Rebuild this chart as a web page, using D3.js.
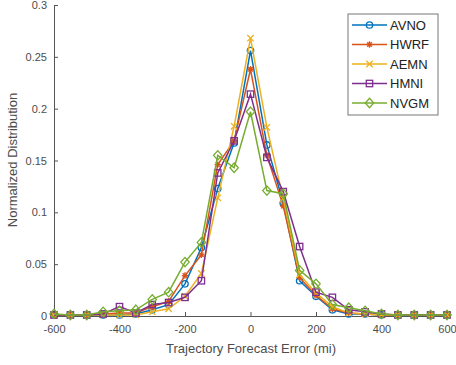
<!DOCTYPE html>
<html>
<head>
<meta charset="utf-8">
<script src="https://cdn.jsdelivr.net/npm/d3@7"></script>
<style>
  body { margin: 0; background: #fff; }
  svg { font-family: "Liberation Sans", Arial, sans-serif; }
</style>
</head>
<body>
<svg width="456" height="365"></svg>
<script>
// forecast error bins (mi)
const errors = d3.range(-600, 601, 50);

const avno = [0.001, 0.001, 0.001, 0.001, 0.001, 0.002, 0.006, 0.011, 0.031, 0.066, 0.123, 0.167, 0.256,
              0.165, 0.109, 0.034, 0.019, 0.006, 0.002, 0.002, 0.001, 0.001, 0.001, 0.001, 0.001];
const hwrf = [0.001, 0.001, 0.001, 0.002, 0.003, 0.003, 0.009, 0.014, 0.039, 0.059, 0.146, 0.169, 0.238,
              0.155, 0.106, 0.037, 0.02, 0.007, 0.003, 0.002, 0.001, 0.001, 0.001, 0.001, 0.001];
const aemn = [0.001, 0.001, 0.001, 0.001, 0.001, 0.001, 0.004, 0.007, 0.019, 0.041, 0.114, 0.183, 0.268,
              0.182, 0.113, 0.04, 0.022, 0.009, 0.003, 0.002, 0.001, 0.001, 0.001, 0.001, 0.001];
const hmni = [0.001, 0.001, 0.001, 0.002, 0.009, 0.003, 0.011, 0.013, 0.018, 0.034, 0.138, 0.169, 0.214,
              0.153, 0.12, 0.067, 0.023, 0.018, 0.006, 0.004, 0.002, 0.001, 0.001, 0.001, 0.001];
const nvgm = [0.002, 0.001, 0.001, 0.004, 0.005, 0.006, 0.016, 0.023, 0.052, 0.071, 0.155, 0.143, 0.197,
              0.121, 0.118, 0.044, 0.031, 0.011, 0.008, 0.005, 0.002, 0.001, 0.001, 0.001, 0.001];

const seriesNames = ["AVNO", "HWRF", "AEMN", "HMNI", "NVGM"];
const seriesValues = [avno, hwrf, aemn, hmni, nvgm];
const colors = ["#0072BD", "#D95319", "#EDB120", "#7E2F8E", "#77AC30"];
const markers = ["circle", "star", "cross", "square", "diamond"];

const xTicks = d3.range(-600, 601, 200);
const yTicks = [0, 0.05, 0.1, 0.15, 0.2, 0.25, 0.3];

const svg = d3.select("svg");
const x = d3.scaleLinear().domain([-600, 600]).range([54, 447]);
const y = d3.scaleLinear().domain([0, 0.3]).range([316, 5]);

const axisColor = "#555";

// axes, MATLAB style: ticks inside, no box
const xAxis = svg.append("g")
  .attr("transform", "translate(0," + y(0) + ")")
  .call(d3.axisBottom(x).tickValues(xTicks).tickFormat(d => String(d))
    .tickSizeInner(-4).tickSizeOuter(0).tickPadding(9));
const yAxis = svg.append("g")
  .attr("transform", "translate(" + x(-600) + ",0)")
  .call(d3.axisLeft(y).tickValues(yTicks).tickFormat(d => String(d))
    .tickSizeInner(-4).tickSizeOuter(0).tickPadding(7));

[xAxis, yAxis].forEach(a => {
  a.select(".domain").attr("stroke", axisColor).attr("stroke-width", 1);
  a.selectAll(".tick line").attr("stroke", axisColor);
  a.selectAll(".tick text").attr("fill", "#4d4d4d").attr("font-size", 11);
});

svg.append("text")
  .attr("x", 251).attr("y", 353)
  .attr("text-anchor", "middle")
  .attr("font-size", 13)
  .attr("fill", "#4d4d4d")
  .text("Trajectory Forecast Error (mi)");

svg.append("text")
  .attr("transform", "translate(17,160) rotate(-90)")
  .attr("text-anchor", "middle")
  .attr("font-size", 13)
  .attr("fill", "#4d4d4d")
  .text("Normalized Distribution");

function drawMarker(g, type, color) {
  const s = 3.2;
  if (type === "circle") {
    g.append("circle").attr("r", s).attr("fill", "none").attr("stroke", color).attr("stroke-width", 1.3);
  } else if (type === "square") {
    g.append("rect").attr("x", -s).attr("y", -s).attr("width", 2 * s).attr("height", 2 * s)
      .attr("fill", "none").attr("stroke", color).attr("stroke-width", 1.3);
  } else if (type === "diamond") {
    g.append("path").attr("d", `M0,${-s - 1.5}L${s + 1},0L0,${s + 1.5}L${-s - 1},0Z`)
      .attr("fill", "none").attr("stroke", color).attr("stroke-width", 1.3);
  } else if (type === "cross") {
    g.append("path").attr("d", `M${-s},${-s}L${s},${s}M${-s},${s}L${s},${-s}`)
      .attr("stroke", color).attr("stroke-width", 1.3);
  } else if (type === "star") {
    g.append("path").attr("d", `M${-s},0L${s},0M0,${-s}L0,${s}M${-s * 0.7},${-s * 0.7}L${s * 0.7},${s * 0.7}M${-s * 0.7},${s * 0.7}L${s * 0.7},${-s * 0.7}`)
      .attr("stroke", color).attr("stroke-width", 1.3);
  }
}

const line = d3.line().x((d, i) => x(errors[i])).y(d => y(d));

seriesValues.forEach((vals, k) => {
  const g = svg.append("g").attr("class", "series");
  g.append("path")
    .attr("d", line(vals))
    .attr("fill", "none")
    .attr("stroke", colors[k])
    .attr("stroke-width", 1.5);
  vals.forEach((v, i) => {
    const m = g.append("g").attr("transform", "translate(" + x(errors[i]) + "," + y(v) + ")");
    drawMarker(m, markers[k], colors[k]);
  });
});

// legend
const legend = svg.append("g").attr("transform", "translate(348,14)");
legend.append("rect")
  .attr("width", 90).attr("height", 101)
  .attr("fill", "#fff").attr("stroke", "#777").attr("stroke-width", 1);

seriesNames.forEach((name, k) => {
  const row = legend.append("g").attr("transform", "translate(0," + (11 + k * 19.5) + ")");
  row.append("line").attr("x1", 4).attr("x2", 39).attr("stroke", colors[k]).attr("stroke-width", 1.5);
  drawMarker(row.append("g").attr("transform", "translate(21.5,0)"), markers[k], colors[k]);
  row.append("text")
    .attr("x", 42).attr("y", 0).attr("dy", "0.35em")
    .attr("font-size", 13)
    .attr("fill", "#222")
    .text(name);
});
</script>
</body>
</html>
